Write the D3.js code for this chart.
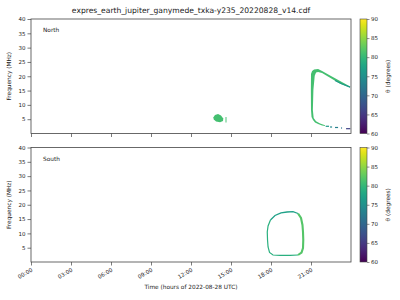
<!DOCTYPE html>
<html>
<head>
<meta charset="utf-8">
<script src="https://cdn.jsdelivr.net/npm/d3@7"></script>
<style>
body { margin: 0; background: #fff; }
text { font-family: "DejaVu Sans", sans-serif; fill: #222; }
</style>
</head>
<body>
<div id="chart"></div>
<script>
var width = 400;
var height = 300;

var title = "expres_earth_jupiter_ganymede_txka-y235_20220828_v14.cdf";

var hourTicks = [0, 3, 6, 9, 12, 15, 18, 21];
var hourLabels = ["00:00", "03:00", "06:00", "09:00", "12:00", "15:00", "18:00", "21:00"];
var freqTicks = [5, 10, 15, 20, 25, 30, 35, 40];
var thetaTicks = [60, 65, 70, 75, 80, 85, 90];

// North: small blob near 14h (time h, freq MHz)
var northBlob = [[13.67, 5.59], [13.8, 6.46], [14.03, 6.81], [14.25, 6.29], [14.42, 5.24],
    [14.4, 4.37], [14.18, 3.91], [13.88, 4.19], [13.71, 4.89]];
var northBlobTheta = 81;
// little sliver right of the blob: [t0, t1, f0, f1]
var northSliver = [14.59, 14.66, 3.84, 5.76];

// North: hook shaped emission after 21h (outline, outer then inner edge)
var northHook = [[23.93, 16.42], [23.18, 18.34], [22.43, 20.26], [21.83, 21.83], [21.53, 22.53],
    [21.23, 22.36], [21.08, 21.83], [21.0, 20.79], [20.99, 15.2], [21.0, 8.2], [21.04, 5.76],
    [21.15, 4.72], [21.3, 3.84], [21.53, 3.32], [21.83, 2.79], [22.05, 2.62],
    [22.05, 2.9], [21.68, 3.5], [21.38, 4.3], [21.2, 5.41], [21.14, 8.2], [21.18, 15.2],
    [21.28, 20.2], [21.38, 21.3], [21.53, 21.5], [21.83, 21.1], [22.43, 19.5],
    [23.18, 17.4], [23.93, 16.05]];
var northHookTheta = 81;
// teal end of the upper branch
var northArcEnd = [[22.8, 18.55], [23.3, 17.35], [23.93, 16.2]];
var northArcEndTheta = 76;
// broken low frequency tail: [t0, t1, f, theta]
var northTail = [[22.1, 22.35, 2.52, 76], [22.43, 22.58, 2.27, 74], [22.8, 23.03, 2.1, 73],
    [23.25, 23.33, 1.92, 72], [23.63, 23.95, 1.68, 66]];

// South: closed loop between 17.7h and 20.4h, in three parts
var southTop = [[17.96, 14.67], [18.3, 16.24], [18.75, 17.19], [19.2, 17.47], [19.65, 17.57], [20.03, 16.94]];
var southRight = [[20.03, 16.94], [20.25, 15.37], [20.36, 12.93], [20.4, 10.48], [20.42, 7.69],
    [20.4, 4.89], [20.29, 3.32], [20.03, 2.45]];
var southRest = [[20.03, 2.45], [19.43, 2.34], [18.68, 2.34], [18.15, 2.45], [17.89, 3.32],
    [17.78, 5.24], [17.74, 7.69], [17.72, 10.48], [17.78, 12.58], [17.96, 14.67]];
var southTopTheta = 77;
var southRightTheta = 82;
var southRestTheta = 79;

var svg = d3.select("#chart").append("svg")
    .attr("width", width)
    .attr("height", height);

var plotLeft = 31, plotRight = 351;
var panels = [
    {name: "North", top: 19, bottom: 133.5, labels: false},
    {name: "South", top: 147.5, bottom: 262, labels: true}
];

var x = d3.scaleLinear().domain([0, 24]).range([plotLeft, plotRight]);
var theta = d3.scaleLinear().domain([60, 90]).range([0, 1]);
function col(t) { return d3.interpolateViridis(theta(t)); }

// colour bar gradient
var defs = svg.append("defs");
var grad = defs.append("linearGradient").attr("id", "viridis")
    .attr("x1", 0).attr("y1", 1).attr("x2", 0).attr("y2", 0);
d3.range(0, 1.01, 0.05).forEach(function(s) {
    grad.append("stop").attr("offset", s).attr("stop-color", d3.interpolateViridis(s));
});

svg.append("text")
    .attr("x", 191).attr("y", 13)
    .attr("text-anchor", "middle")
    .attr("font-size", 7.6)
    .text(title);

panels.forEach(function(p) {
    var y = d3.scaleLinear().domain([0, 40]).range([p.bottom, p.top]);
    var g = svg.append("g");

    var line = d3.line().x(function(d) { return x(d[0]); }).y(function(d) { return y(d[1]); });

    if (p.name == "North") {
        g.append("path").attr("d", line(northBlob) + "Z").attr("fill", col(northBlobTheta));
        g.append("rect")
            .attr("x", x(northSliver[0])).attr("width", x(northSliver[1]) - x(northSliver[0]))
            .attr("y", y(northSliver[3])).attr("height", y(northSliver[2]) - y(northSliver[3]))
            .attr("fill", col(northBlobTheta));
        g.append("path").attr("d", line(northHook) + "Z")
            .attr("fill", col(northHookTheta));
        g.append("path").attr("d", line(northArcEnd))
            .attr("fill", "none").attr("stroke", col(northArcEndTheta)).attr("stroke-width", 1.1);
        g.selectAll("rect.tail").data(northTail).enter().append("rect")
            .attr("class", "tail")
            .attr("x", function(d) { return x(d[0]); })
            .attr("width", function(d) { return x(d[1]) - x(d[0]); })
            .attr("y", function(d) { return y(d[2]) - 0.6; })
            .attr("height", 1.2)
            .attr("fill", function(d) { return col(d[3]); });
    } else {
        g.append("path").attr("d", line(southRest))
            .attr("fill", "none").attr("stroke", col(southRestTheta)).attr("stroke-width", 1.2);
        g.append("path").attr("d", line(southTop))
            .attr("fill", "none").attr("stroke", col(southTopTheta)).attr("stroke-width", 1.3);
        g.append("path").attr("d", line(southRight))
            .attr("fill", "none").attr("stroke", col(southRightTheta)).attr("stroke-width", 2.1);
    }

    // frame
    svg.append("rect")
        .attr("x", plotLeft).attr("y", p.top)
        .attr("width", plotRight - plotLeft).attr("height", p.bottom - p.top)
        .attr("fill", "none").attr("stroke", "#444").attr("stroke-width", 0.8);

    var yAxis = svg.append("g")
        .attr("transform", "translate(" + plotLeft + ",0)")
        .call(d3.axisLeft(y).tickValues(freqTicks).tickSize(3.5).tickPadding(2));
    yAxis.select(".domain").remove();
    yAxis.selectAll("line").attr("stroke", "#444").attr("stroke-width", 0.7);
    yAxis.selectAll("text").attr("font-size", 5.5).attr("fill", "#222").style("font-family", "DejaVu Sans");

    var xAxis = svg.append("g")
        .attr("transform", "translate(0," + p.bottom + ")")
        .call(d3.axisBottom(x).tickValues(hourTicks).tickSize(3.5).tickFormat(""));
    xAxis.select(".domain").remove();
    xAxis.selectAll("line").attr("stroke", "#444").attr("stroke-width", 0.7);

    if (p.labels) {
        svg.selectAll("text.xt").data(hourTicks).enter().append("text")
            .attr("class", "xt")
            .attr("text-anchor", "end")
            .attr("font-size", 5.5)
            .attr("transform", function(d) {
                return "translate(" + (x(d) + 2) + "," + (p.bottom + 9) + ") rotate(-30)";
            })
            .text(function(d, i) { return hourLabels[i]; });
    }

    svg.append("text")
        .attr("transform", "translate(11," + ((p.top + p.bottom) / 2) + ") rotate(-90)")
        .attr("text-anchor", "middle")
        .attr("font-size", 5.8)
        .text("Frequency (MHz)");

    svg.append("text")
        .attr("x", 43).attr("y", p.top + 13)
        .attr("font-size", 5.8)
        .text(p.name);

    // colour bar
    var cbX = 360, cbW = 7;
    svg.append("rect")
        .attr("x", cbX).attr("y", p.top)
        .attr("width", cbW).attr("height", p.bottom - p.top)
        .attr("fill", "url(#viridis)")
        .attr("stroke", "#444").attr("stroke-width", 0.6);
    var c = d3.scaleLinear().domain([60, 90]).range([p.bottom, p.top]);
    var cAxis = svg.append("g")
        .attr("transform", "translate(" + (cbX + cbW) + ",0)")
        .call(d3.axisRight(c).tickValues(thetaTicks).tickSize(2.5).tickPadding(1.5));
    cAxis.select(".domain").remove();
    cAxis.selectAll("line").attr("stroke", "#444").attr("stroke-width", 0.6);
    cAxis.selectAll("text").attr("font-size", 5.5).attr("fill", "#222").style("font-family", "DejaVu Sans");

    svg.append("text")
        .attr("transform", "translate(390," + ((p.top + p.bottom) / 2) + ") rotate(-90)")
        .attr("text-anchor", "middle")
        .attr("font-size", 5.8)
        .text("θ (degrees)");
});

svg.append("text")
    .attr("x", 191).attr("y", 289)
    .attr("text-anchor", "middle")
    .attr("font-size", 5.8)
    .text("Time (hours of 2022-08-28 UTC)");
</script>
</body>
</html>
